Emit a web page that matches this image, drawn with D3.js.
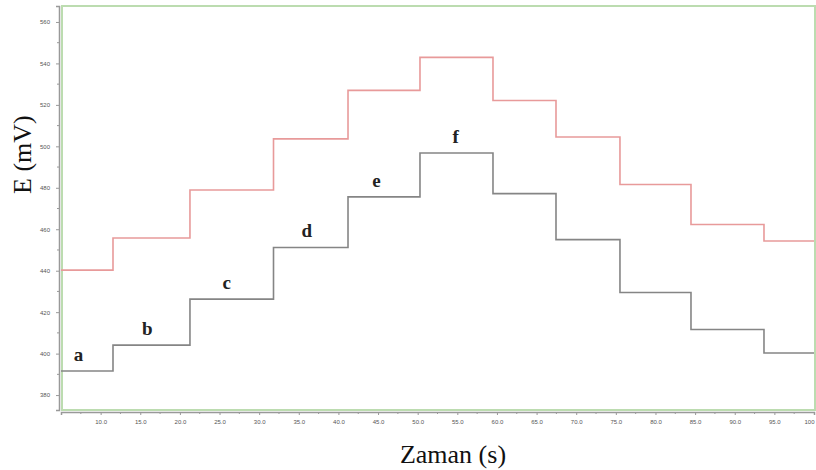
<!DOCTYPE html>
<html lang="en">
<head>
    <meta charset="UTF-8">
    <title>E (mV) - Zaman (s)</title>
    <script src="https://d3js.org/d3.v7.min.js"></script>
    <style>
        body { margin: 0; background: #fff; }
        .tick text { font: 6px Arial, sans-serif; fill: #555; }
        .axis-title { font-family: "Liberation Serif", "DejaVu Serif", serif; font-size: 26px; fill: #111; }
        .step-label { font-family: "Liberation Serif", serif; font-size: 19px; font-weight: bold; fill: #222; }
    </style>
</head>
<body>
<svg width="816" height="470"></svg>
<script>
    // step change times (s)
    const stepTimes = [5, 11.56, 21.27, 31.81, 41.21, 50.29, 59.5, 67.45, 75.52, 84.48, 93.69, 100];
    // potential levels (mV) for each interval
    const blackLevels = [391.6, 404.1, 426.3, 451.2, 475.6, 496.8, 477.2, 455.0, 429.5, 411.6, 400.3];
    const redLevels = [440.3, 455.8, 478.9, 503.6, 527.0, 542.9, 522.1, 504.5, 481.6, 462.3, 454.3];
    const stepLabels = ["a", "b", "c", "d", "e", "f"];
    const labelTimes = [7.2, 15.9, 25.9, 36.0, 44.8, 54.8];
    const xTicks = d3.range(10, 101, 5);
    const yTicks = d3.range(380, 561, 20);

    const margin = { top: 6, right: 2, bottom: 60, left: 61 };
    const width = 816 - margin.left - margin.right;
    const height = 470 - margin.top - margin.bottom;

    const svg = d3.select("svg")
        .append("g")
        .attr("transform", `translate(${margin.left},${margin.top})`);

    const x = d3.scaleLinear().domain([5, 100]).range([0, width]);
    const y = d3.scaleLinear().domain([372.8, 567.7]).range([height, 0]);

    // plot frame
    svg.append("rect")
        .attr("x", 1).attr("y", 0)
        .attr("width", width).attr("height", height)
        .attr("fill", "none")
        .attr("stroke", "#bcdcb0")
        .attr("stroke-width", 2);

    // axes
    const xAxis = svg.append("g")
        .attr("transform", `translate(0,${height + 2})`)
        .call(d3.axisBottom(x).tickValues(xTicks).tickSize(3).tickPadding(5)
            .tickFormat(d => d === 100 ? "100" : d3.format(".1f")(d)));
    xAxis.selectAll(".tick text").filter(d => d === 100).attr("text-anchor", "end");
    xAxis.append("g").selectAll("line")
        .data(d3.range(7.5, 100, 2.5).filter(d => d % 5 !== 0))
        .join("line")
        .attr("x1", d => x(d)).attr("x2", d => x(d))
        .attr("y1", 0).attr("y2", 2)
        .attr("stroke", "#999");

    const yAxis = svg.append("g")
        .attr("transform", "translate(-2,0)")
        .call(d3.axisLeft(y).tickValues(yTicks).tickSize(3).tickPadding(6));
    yAxis.append("g").selectAll("line")
        .data(d3.range(390, 560, 20))
        .join("line")
        .attr("y1", d => y(d)).attr("y2", d => y(d))
        .attr("x1", 0).attr("x2", -2)
        .attr("stroke", "#999");

    [xAxis, yAxis].forEach(a => {
        a.select(".domain").attr("stroke", "#999").attr("stroke-width", 1.5);
        a.selectAll(".tick line").attr("stroke", "#999");
    });

    // step curves
    function stepPoints(levels) {
        const pts = levels.map((v, i) => [stepTimes[i], v]);
        pts.push([stepTimes[levels.length], levels[levels.length - 1]]);
        return pts;
    }
    const line = d3.line()
        .x(d => x(d[0]))
        .y(d => y(d[1]))
        .curve(d3.curveStepAfter);

    svg.append("path")
        .datum(stepPoints(redLevels))
        .attr("fill", "none")
        .attr("stroke", "#e89a9a")
        .attr("stroke-width", 1.6)
        .attr("d", line);

    svg.append("path")
        .datum(stepPoints(blackLevels))
        .attr("fill", "none")
        .attr("stroke", "#858585")
        .attr("stroke-width", 1.6)
        .attr("d", line);

    // step letters
    svg.selectAll(".step-label")
        .data(stepLabels)
        .join("text")
        .attr("class", "step-label")
        .attr("text-anchor", "middle")
        .attr("x", (d, i) => x(labelTimes[i]))
        .attr("y", (d, i) => y(blackLevels[i]) - 10)
        .text(d => d);

    // axis titles
    svg.append("text")
        .attr("class", "axis-title")
        .attr("text-anchor", "middle")
        .attr("x", 453 - margin.left)
        .attr("y", height + 53)
        .text("Zaman (s)");

    svg.append("text")
        .attr("class", "axis-title")
        .attr("text-anchor", "middle")
        .attr("transform", `translate(-30,${y(496)}) rotate(-90)`)
        .text("E (mV)");
</script>
</body>
</html>
